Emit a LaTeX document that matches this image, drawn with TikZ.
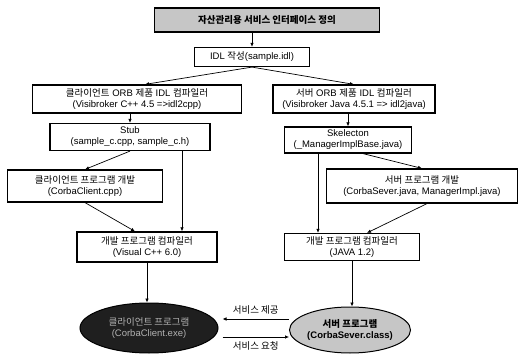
\documentclass[tikz,border=0pt]{standalone}
\usepackage{fontspec}
\setmainfont{Liberation Sans}
\newfontfamily\kr{Noto Sans CJK KR}
\usepackage{tikz}
\usetikzlibrary{shapes,arrows.meta,positioning,calc}

\begin{document}
\begin{tikzpicture}[x=1pt,y=-1pt,font=\fontsize{9.5}{11}\selectfont]
        \tikzstyle{box}=[rectangle, draw=black, line width=1.2pt, fill=white, align=center, inner sep=1pt]
        \tikzstyle{arr}=[-{Latex[length=4pt,width=3.5pt]}, line width=0.7pt]
        \useasboundingbox (0,0) rectangle (524,355);

        % Interface
        \node (title) [box, fill=gray!45, minimum width=225pt, minimum height=24pt, font=\fontsize{9.5}{11}\selectfont\bfseries] at (267,20) {\kr 자산관리용 서비스 인터페이스 정의};
        \node (idl) [box, minimum width=115pt, minimum height=19pt] at (252,57) {IDL {\kr 작성}(sample.idl)};

        % Client side
        \node (ccomp) [box, minimum width=209pt, minimum height=28pt] at (137,99) {{\kr 클라이언트} ORB {\kr 제품} IDL {\kr 컴파일러}\\(Visibroker C++ 4.5 =>idl2cpp)};
        \node (stub) [box, minimum width=160pt, minimum height=27pt] at (130,137) {Stub\\(sample\_c.cpp, sample\_c.h)};
        \node (cdev) [box, minimum width=155pt, minimum height=32pt] at (85,186) {{\kr 클라이언트 프로그램 개발}\\(CorbaClient.cpp)};
        \node (ccc) [box, minimum width=140pt, minimum height=30pt] at (147,247) {{\kr 개발 프로그램 컴파일러}\\(Visual C++ 6.0)};
        \node (cell) [ellipse, draw=black, line width=1pt, fill=black!88, text=gray!60, align=center, minimum width=138pt, minimum height=50pt, inner sep=0pt] at (149,328) {{\kr 클라이언트 프로그램}\\(CorbaClient.exe)};

        % Server side
        \node (scomp) [box, minimum width=162pt, minimum height=28pt] at (354,99) {{\kr 서버} ORB {\kr 제품} IDL {\kr 컴파일러}\\(Visibroker Java 4.5.1 => idl2java)};
        \node (skel) [box, minimum width=127pt, minimum height=26pt] at (348,140) {Skelecton\\(\_ManagerImplBase.java)};
        \node (sdev) [box, minimum width=191pt, minimum height=34pt] at (422,186) {{\kr 서버 프로그램 개발}\\(CorbaSever.java, ManagerImpl.java)};
        \node (scc) [box, minimum width=135pt, minimum height=27pt] at (352,247) {{\kr 개발 프로그램 컴파일러}\\(JAVA 1.2)};
        \node (sell) [ellipse, draw=black, line width=1pt, fill=gray!45, align=center, minimum width=120pt, minimum height=46pt, inner sep=0pt, font=\fontsize{9.5}{11}\selectfont\bfseries] at (350,330) {{\kr 서버 프로그램}\\(CorbaSever.class)};

        % Arrows
        \draw[arr] (idl.north |- title.south) -- (idl.north);
        \draw[arr] (idl.south) -- ([xshift=8pt]ccomp.north);
        \draw[arr] (idl.south) -- (scomp.north);
        \draw[arr] (stub.north |- ccomp.south) -- (stub.north);
        \draw[arr] (skel.north |- scomp.south) -- (skel.north);
        \draw[arr] (stub.south) -- (cdev.north);
        \draw[arr] ([xshift=52pt]stub.south) -- ([xshift=52pt]stub.south |- ccc.north);
        \draw[arr] (cdev.south) -- ([xshift=-12pt]ccc.north);
        \draw[arr] ([xshift=-30pt]skel.south) -- ([xshift=-30pt]skel.south |- scc.north);
        \draw[arr] ([xshift=15pt]skel.south) -- (sdev.north);
        \draw[arr] ([xshift=5pt]sdev.south) -- ([xshift=15pt]scc.north);
        \draw[arr] (ccc.south) -- (ccc.south |- cell.north);
        \draw[arr] (scc.south) -- (scc.south |- sell.north);

        % Service
        \draw[arr] ([yshift=11pt]sell.west) -- node[above=1pt] {\kr 서비스 제공} ([yshift=9pt,xshift=4pt]cell.east);
        \draw[arr] ([yshift=-9pt,xshift=4pt]cell.east) -- node[below=1pt] {\kr 서비스 요청} ([yshift=-7pt]sell.west);
    \end{tikzpicture}
\end{document}
